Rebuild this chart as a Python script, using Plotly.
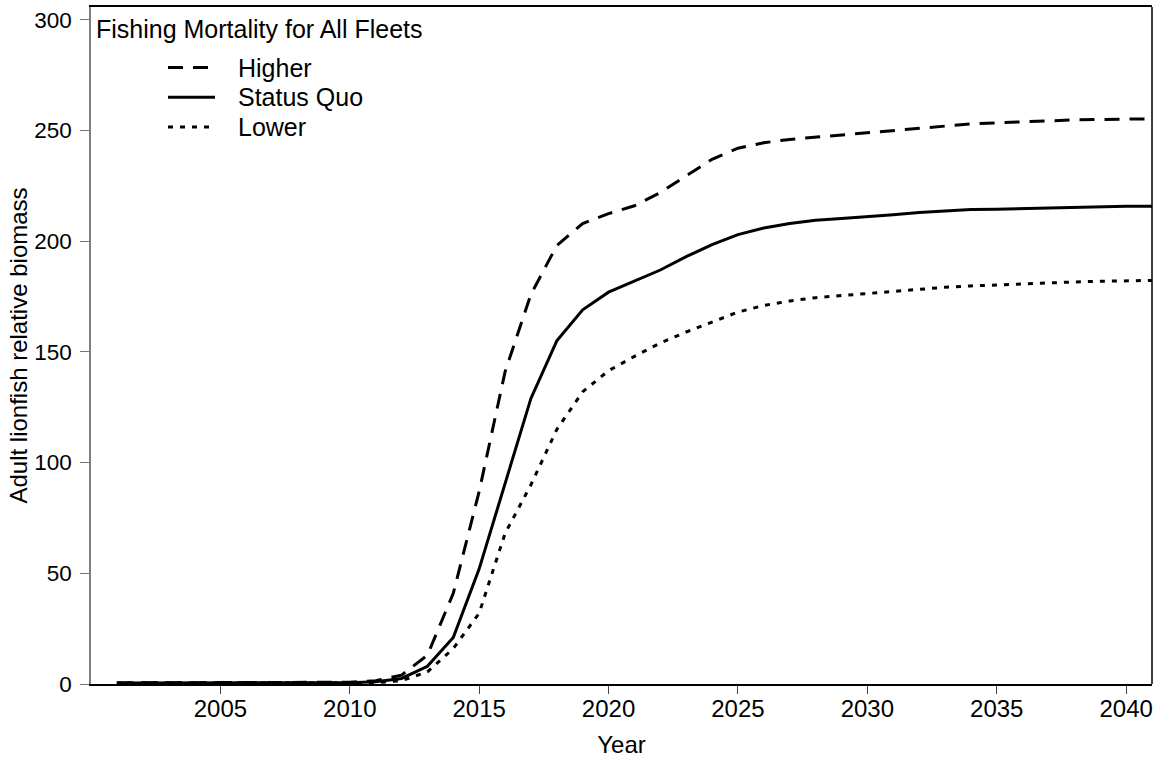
import plotly.graph_objects as go

years = [2001, 2002, 2003, 2004, 2005, 2006, 2007, 2008, 2009, 2010,
         2011, 2012, 2013, 2014, 2015, 2016, 2017, 2018, 2019, 2020,
         2021, 2022, 2023, 2024, 2025, 2026, 2027, 2028, 2029, 2030,
         2031, 2032, 2033, 2034, 2035, 2036, 2037, 2038, 2039, 2040, 2041]

higher = [0.5, 0.5, 0.5, 0.5, 0.5, 0.5, 0.5, 0.5, 0.5, 0.8,
          1.5, 4.0, 13.0, 41.0, 87.0, 141.0, 176.0, 198.0, 208.0, 212.5,
          216.0, 222.0, 229.5, 237.0, 242.0, 244.5, 246.0, 247.0, 248.0, 249.0,
          250.0, 251.0, 252.0, 253.0, 253.5, 254.0, 254.5, 254.8, 255.0, 255.2, 255.3]

status_quo = [0.5, 0.5, 0.5, 0.5, 0.5, 0.5, 0.5, 0.5, 0.5, 0.6,
              1.0, 2.5, 8.0, 21.0, 52.0, 90.0, 129.0, 155.0, 169.0, 177.0,
              182.0, 187.0, 193.0, 198.5, 203.0, 206.0, 208.0, 209.5, 210.3, 211.0,
              212.0, 213.0, 213.8, 214.3, 214.5, 214.8, 215.2, 215.4, 215.6, 215.8, 215.8]

lower = [0.5, 0.5, 0.5, 0.5, 0.5, 0.5, 0.5, 0.5, 0.5, 0.5,
         0.6, 1.5, 5.5, 16.0, 32.0, 68.0, 90.0, 115.0, 132.0, 141.5,
         148.0, 154.0, 159.0, 163.5, 168.0, 171.0, 173.0, 174.5, 175.5, 176.5,
         177.5, 178.5, 179.2, 179.8, 180.3, 180.8, 181.2, 181.6, 181.9, 182.1, 182.3]

series_names = ["Higher", "Status Quo", "Lower"]
series_values = [higher, status_quo, lower]
series_dash = ["15px,10px", "solid", "5px,7px"]

legend_title = "Fishing Mortality for All Fleets"
x_title = "Year"
y_title = "Adult lionfish relative biomass"
x_ticks = [2005, 2010, 2015, 2020, 2025, 2030, 2035, 2040]
y_ticks = [0, 50, 100, 150, 200, 250, 300]

FONT = "Liberation Sans, Arial, sans-serif"
FS_LEG = 25
FS_TITLE = 24
FS_XT = 24
FS_YT = 22.5

fig = go.Figure()
for name, vals, dash in zip(series_names, series_values, series_dash):
    fig.add_trace(go.Scatter(
        x=years, y=vals, mode="lines", name=name,
        line=dict(color="black", width=3, dash=dash),
        cliponaxis=False, showlegend=False,
    ))

# plot area geometry in pixels (for legend placement)
L, R, T, B = 91, 7, 5, 72
W, H = 1159, 759
pw, ph = W - L - R, H - T - B

def px(xp):
    return (xp - L) / pw

def py(yp):
    return (H - B - yp) / ph

shapes = []
annotations = []
# right border (black)
shapes.append(dict(type="line", xref="paper", yref="paper", x0=1, x1=1, y0=0, y1=1,
                   line=dict(color="black", width=1.5)))

annotations.append(dict(text=legend_title, xref="paper", yref="paper",
                        x=px(94), y=py(27), xanchor="left", yanchor="middle",
                        showarrow=False, font=dict(family=FONT, size=FS_LEG, color="black")))
row_y = [66, 96, 126]
for name, dash, ry in zip(series_names, series_dash, row_y):
    shapes.append(dict(type="line", xref="paper", yref="paper",
                       x0=px(168), x1=px(215), y0=py(ry), y1=py(ry),
                       line=dict(color="black", width=3, dash=dash)))
    annotations.append(dict(text=name, xref="paper", yref="paper",
                            x=px(236), y=py(ry), xanchor="left", yanchor="middle",
                            showarrow=False, font=dict(family=FONT, size=FS_LEG, color="black")))

fig.update_layout(
    width=W, height=H,
    margin=dict(l=L, r=R, t=T, b=B, pad=0),
    paper_bgcolor="white", plot_bgcolor="white",
    font=dict(family=FONT, size=FS_TITLE, color="black"),
    shapes=shapes, annotations=annotations,
    xaxis=dict(
        range=[2000, 2041], tickmode="array", tickvals=x_ticks,
        ticks="outside", ticklen=8, tickwidth=1, tickcolor="#444",
        showline=True, linecolor="black", linewidth=1.5, mirror=True,
        showgrid=False, zeroline=False, ticklabelstandoff=-6,
        title=dict(text=x_title, standoff=16, font=dict(family=FONT, size=FS_TITLE)),
        tickfont=dict(family=FONT, size=FS_XT, color="black"),
    ),
    yaxis=dict(
        range=[0, 305.8], tickmode="array", tickvals=y_ticks,
        ticks="outside", ticklen=9, tickwidth=1, tickcolor="#777",
        showline=True, linecolor="#808080", linewidth=1.5,
        showgrid=False, zeroline=False, ticklabelstandoff=4,
        title=dict(text=y_title, standoff=0, font=dict(family=FONT, size=FS_TITLE)),
        tickfont=dict(family=FONT, size=FS_YT, color="black"),
    ),
)

fig.write_html("out.html")
